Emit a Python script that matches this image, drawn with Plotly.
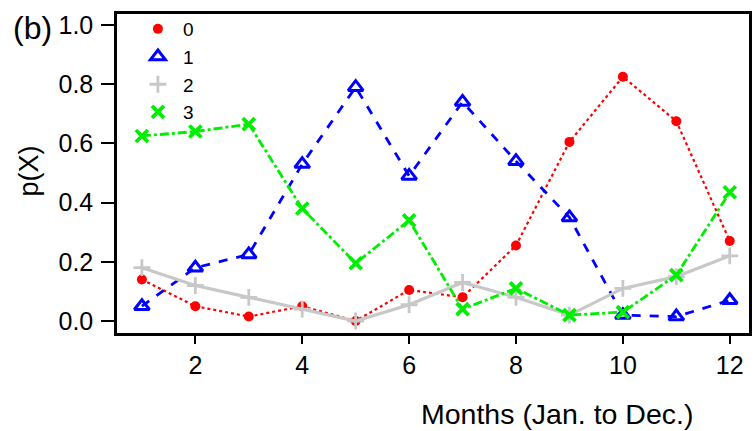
import plotly.graph_objects as go

months = list(range(1, 13))
p0 = [0.14, 0.05, 0.015, 0.05, 0.0, 0.105, 0.08, 0.255, 0.605, 0.825, 0.675, 0.27]
p1 = [0.05, 0.18, 0.225, 0.53, 0.79, 0.49, 0.74, 0.54, 0.35, 0.02, 0.015, 0.07]
p2 = [0.18, 0.12, 0.08, 0.04, 0.0, 0.055, 0.13, 0.08, 0.02, 0.11, 0.15, 0.22]
p3 = [0.625, 0.64, 0.665, 0.38, 0.195, 0.34, 0.04, 0.11, 0.02, 0.03, 0.155, 0.435]
series_names = ["0", "1", "2", "3"]
x_ticks = [2, 4, 6, 8, 10, 12]
y_ticks = [0.0, 0.2, 0.4, 0.6, 0.8, 1.0]

styles = [
    dict(color="#ff0000", dash="dot", width=2.2, symbol="circle", msize=10, mline=0),
    dict(color="#0000ff", dash="dash", width=2.8, symbol="triangle-up-open", msize=13, mline=3),
    dict(color="#c8c8c8", dash="solid", width=3.2, symbol="cross-thin-open", msize=12, mline=2.8),
    dict(color="#00ee00", dash="dashdot", width=2.8, symbol="x-thin-open", msize=12, mline=3.8),
]

fig = go.Figure()
for name, ys, st in zip(series_names, [p0, p1, p2, p3], styles):
    fig.add_trace(go.Scatter(
        x=months, y=ys, mode="lines+markers", showlegend=False,
        line=dict(color=st["color"], dash=st["dash"], width=st["width"]),
        marker=dict(symbol=st["symbol"], size=st["msize"], color=st["color"],
                    line=dict(color=st["color"], width=st["mline"])),
    ))
for name, st in zip(series_names, styles):
    fig.add_trace(go.Scatter(
        x=[None], y=[None], mode="markers", name=name,
        marker=dict(symbol=st["symbol"], size=st["msize"], color=st["color"],
                    line=dict(color=st["color"], width=st["mline"])),
    ))

font = "Liberation Sans, Arial, sans-serif"
L, R, T, B = 117, 3, 14, 98
W, H = 755, 431
pw = W - L - R
ph = H - T - B


def px(xp):
    return (xp - L) / pw


def py(yp):
    return (H - B - yp) / ph


fig.update_layout(
    width=W, height=H,
    margin=dict(l=L, r=R, t=T, b=B),
    paper_bgcolor="white", plot_bgcolor="white",
    font=dict(family=font, color="black"),
    showlegend=True,
    legend=dict(x=px(133), y=py(10), xanchor="left", yanchor="top",
                bgcolor="rgba(0,0,0,0)", font=dict(size=19, family=font),
                tracegroupgap=0, itemwidth=40),
    xaxis=dict(range=[0.534, 12.36], tickvals=x_ticks, ticks="outside", ticklen=8,
               tickwidth=1.5, tickcolor="black", showgrid=False, zeroline=False,
               showline=True, linecolor="black", linewidth=2.5, mirror=True,
               tickfont=dict(size=25, family=font)),
    yaxis=dict(range=[-0.0405, 1.037], tickvals=y_ticks, ticktext=[f"{v:.1f}" for v in y_ticks],
               ticks="outside", ticklen=13, tickwidth=1.5, tickcolor="black",
               ticklabelstandoff=3,
               showgrid=False, zeroline=False, showline=True, linecolor="black",
               linewidth=2.5, mirror=True, tickfont=dict(size=25, family=font)),
    annotations=[
        dict(text="(b)", x=px(32), y=py(28), xref="paper", yref="paper", showarrow=False,
             font=dict(size=32, family=font), xanchor="center", yanchor="middle"),
        dict(text="p(X)", x=px(29), y=py(171), xref="paper", yref="paper", showarrow=False,
             textangle=-90, font=dict(size=27, family=font), xanchor="center", yanchor="middle"),
        dict(text="Months (Jan. to Dec.)",
             x=px(559), y=py(414), xref="paper", yref="paper",
             showarrow=False, font=dict(size=28.5, family=font), xanchor="center", yanchor="middle"),
    ],
)

fig.write_html("out.html")
